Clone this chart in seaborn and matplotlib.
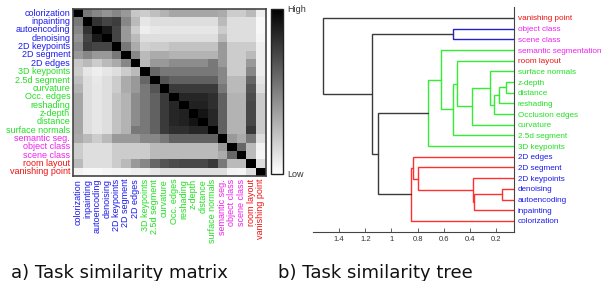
import matplotlib
matplotlib.use('Agg')
import numpy as np
import pandas as pd
import matplotlib.pyplot as plt
import seaborn as sns

# tasks in matrix order
tasks = ['colorization', 'inpainting', 'autoencoding', 'denoising', '2D keypoints',
         '2D segment', '2D edges', '3D keypoints', '2.5d segment', 'curvature',
         'Occ. edges', 'reshading', 'z-depth', 'distance', 'surface normals',
         'semantic seg.', 'object class', 'scene class', 'room layout', 'vanishing point']
task_group = ['2d'] * 7 + ['3d'] * 8 + ['sem'] * 3 + ['other'] * 2

# similarity (1 = black = high)
similarity = [
    [1.00, .53, .47, .42, .47, .40, .22, .20, .25, .30, .35, .35, .35, .35, .35, .33, .20, .20, .27, .07],
    [.53, 1.00, .80, .73, .76, .47, .27, .10, .13, .13, .13, .13, .13, .13, .13, .27, .13, .13, .13, .03],
    [.47, .80, 1.00, .90, .73, .40, .20, .07, .09, .10, .10, .10, .10, .10, .10, .20, .13, .13, .13, .03],
    [.42, .73, .90, 1.00, .73, .40, .27, .13, .13, .13, .13, .13, .13, .13, .13, .27, .13, .13, .13, .04],
    [.47, .76, .73, .73, 1.00, .53, .33, .18, .20, .20, .24, .24, .24, .24, .24, .40, .20, .20, .20, .07],
    [.40, .47, .40, .40, .53, 1.00, .47, .27, .33, .33, .30, .30, .30, .30, .30, .40, .20, .20, .27, .07],
    [.22, .27, .20, .27, .33, .47, 1.00, .27, .40, .40, .45, .45, .45, .45, .53, .40, .20, .20, .40, .07],
    [.20, .10, .07, .10, .13, .20, .27, 1.00, .60, .53, .53, .53, .53, .53, .53, .47, .20, .20, .47, .07],
    [.25, .13, .09, .13, .20, .33, .40, .60, 1.00, .67, .62, .62, .62, .62, .62, .47, .27, .27, .60, .10],
    [.30, .13, .10, .13, .20, .33, .40, .53, .67, 1.00, .77, .77, .77, .77, .77, .53, .27, .27, .67, .13],
    [.35, .13, .10, .13, .24, .30, .45, .53, .62, .77, 1.00, .85, .85, .85, .82, .62, .30, .30, .70, .20],
    [.35, .13, .10, .13, .24, .30, .45, .53, .62, .77, .85, 1.00, .87, .87, .82, .62, .30, .30, .72, .20],
    [.35, .13, .10, .13, .24, .30, .45, .53, .62, .77, .85, .87, 1.00, .92, .85, .62, .30, .30, .72, .20],
    [.35, .13, .10, .13, .24, .30, .45, .53, .62, .77, .85, .87, .92, 1.00, .85, .62, .30, .30, .72, .20],
    [.35, .13, .10, .13, .24, .30, .53, .53, .62, .77, .82, .82, .85, .85, 1.00, .62, .30, .30, .78, .20],
    [.33, .27, .20, .27, .40, .40, .40, .47, .47, .53, .62, .62, .62, .62, .62, 1.00, .40, .33, .53, .13],
    [.20, .13, .13, .13, .20, .20, .20, .20, .27, .27, .27, .27, .27, .27, .27, .40, 1.00, .60, .27, .05],
    [.20, .13, .13, .13, .20, .20, .20, .20, .27, .27, .27, .27, .27, .27, .27, .33, .60, 1.00, .27, .04],
    [.27, .13, .13, .13, .20, .27, .40, .47, .60, .67, .70, .72, .72, .72, .78, .53, .27, .27, 1.00, .13],
    [.05, .03, .03, .04, .05, .05, .07, .07, .10, .13, .13, .13, .13, .13, .13, .13, .05, .04, .13, 1.00],
]

# dendrogram leaves, top to bottom
tree_leaves = ['vanishing point', 'object class', 'scene class', 'semantic segmentation',
               'room layout', 'surface normals', 'z-depth', 'distance', 'reshading',
               'Occlusion edges', 'curvature', '2.5d segment', '3D keypoints', '2D edges',
               '2D segment', '2D keypoints', 'denoising', 'autoencoding', 'inpainting',
               'colorization']
tree_leaf_group = ['other', 'sem', 'sem', 'sem', 'other'] + ['3d'] * 8 + ['2d'] * 7

# merges: (child a, child b, height, branch colour)
merges = [
    ('z-depth', 'distance', 0.126, 'g'),          # m0
    ('m0', 'reshading', 0.175, 'g'),              # m1
    ('m1', 'Occlusion edges', 0.213, 'g'),        # m2
    ('surface normals', 'm2', 0.246, 'g'),        # m3
    ('m3', 'curvature', 0.386, 'g'),              # m4
    ('room layout', 'm4', 0.50, 'g'),             # m5
    ('m5', '2.5d segment', 0.533, 'g'),           # m6
    ('semantic segmentation', 'm6', 0.625, 'g'),  # m7
    ('m7', '3D keypoints', 0.72, 'g'),            # m8
    ('denoising', 'autoencoding', 0.157, 'r'),    # m9
    ('m9', 'inpainting', 0.368, 'r'),             # m10
    ('2D keypoints', 'm10', 0.378, 'r'),          # m11
    ('2D segment', 'm11', 0.80, 'r'),             # m12
    ('2D edges', 'm12', 0.836, 'r'),              # m13
    ('m13', 'colorization', 0.854, 'r'),          # m14
    ('object class', 'scene class', 0.526, 'b'),  # m15
    ('m8', 'm14', 1.106, 'k'),                    # m16
    ('m15', 'm16', 1.15, 'k'),                    # m17
    ('vanishing point', 'm17', 1.52, 'k'),        # m18
]
tree_ticks = [1.4, 1.2, 1, 0.8, 0.6, 0.4, 0.2]

label_colors = {'2d': '#1a1aee', '3d': '#22e022', 'sem': '#ee22ee', 'other': '#ee1111'}
link_colors = {'g': '#33ee33', 'r': '#ff3030', 'b': '#2222cc', 'k': '#3a3a3a'}

sns.set_style('white')
plt.rcParams['font.family'] = ['Liberation Sans', 'DejaVu Sans']

fig = plt.figure(figsize=(6.03, 2.81), dpi=100)
ax_hm = fig.add_axes([0.121, 0.3737, 0.3196, 0.594])
cax = fig.add_axes([0.449, 0.381, 0.0199, 0.587])
ax_tr = fig.add_axes([0.519, 0.176, 0.333, 0.798])

# a) similarity matrix
df = pd.DataFrame(similarity, index=tasks, columns=tasks)
sns.heatmap(df, ax=ax_hm, cmap='gray_r', vmin=0, vmax=1, cbar_ax=cax,
            xticklabels=True, yticklabels=True)
ax_hm.tick_params(length=0, pad=2, labelsize=6.5)
ax_hm.set_xticklabels(tasks, rotation=90, ha='center', va='top')
ax_hm.set_yticklabels(tasks, rotation=0, ha='right', va='center')
for lab, g in zip(ax_hm.get_xticklabels(), task_group):
    lab.set_color(label_colors[g])
for lab, g in zip(ax_hm.get_yticklabels(), task_group):
    lab.set_color(label_colors[g])
for sp in ax_hm.spines.values():
    sp.set_visible(True)
    sp.set_color('#444444')
    sp.set_linewidth(1.2)

cbar = ax_hm.collections[0].colorbar
cbar.set_ticks([0, 1])
cbar.set_ticklabels(['Low', 'High'])
cbar.ax.tick_params(length=0, labelsize=6.5, labelcolor='#333333', pad=3)
cbar.outline.set_edgecolor('#222222')
cbar.outline.set_linewidth(1.0)

# b) similarity tree
nodes = {name: (0.0, i + 1) for i, name in enumerate(tree_leaves)}
for i, (a, b, h, c) in enumerate(merges):
    ha, ya = nodes[a]
    hb, yb = nodes[b]
    ax_tr.plot([ha, h, h, hb], [ya, ya, yb, yb], color=link_colors[c], lw=1.0,
               solid_joinstyle='miter')
    nodes[f'm{i}'] = (h, (ya + yb) / 2)

ax_tr.set_xlim(1.6, 0.065)
ax_tr.set_ylim(21, 0)
ax_tr.set_xticks(tree_ticks)
ax_tr.set_xticklabels([f'{t:g}' for t in tree_ticks])
ax_tr.set_yticks(range(1, len(tree_leaves) + 1))
ax_tr.set_yticklabels(tree_leaves)
ax_tr.yaxis.tick_right()
ax_tr.tick_params(axis='x', direction='in', length=3, width=0.6, color='#444444',
                  labelsize=5.5, labelcolor='#333333', pad=3, bottom=True)
ax_tr.tick_params(axis='y', direction='in', length=2, width=0.6, color='#444444',
                  labelsize=5.9, pad=3, right=True, left=False)
for lab, g in zip(ax_tr.get_yticklabels(), tree_leaf_group):
    lab.set_color(label_colors[g])
for side in ['left', 'top']:
    ax_tr.spines[side].set_visible(False)
for side in ['right', 'bottom']:
    ax_tr.spines[side].set_color('#444444')
    ax_tr.spines[side].set_linewidth(0.8)

fig.text(11 / 603, 0.012, 'a) Task similarity matrix', fontsize=13,
         family='DejaVu Sans', color='#111111', va='baseline')
fig.text(277.7 / 603, 0.012, 'b) Task similarity tree', fontsize=13,
         family='DejaVu Sans', color='#111111', va='baseline')

fig.savefig('out.png', dpi=100)
